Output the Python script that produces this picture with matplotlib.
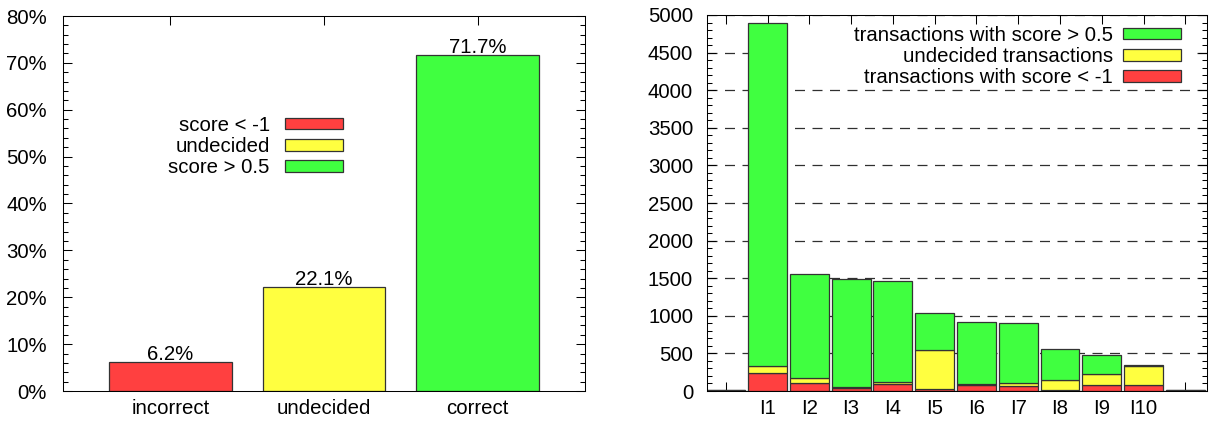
import matplotlib
matplotlib.use("Agg")
import matplotlib.pyplot as plt
from matplotlib.patches import Patch, Rectangle
from matplotlib.ticker import MultipleLocator, PercentFormatter

plt.rcParams['font.family'] = ['Liberation Sans', 'DejaVu Sans']
plt.rcParams['font.size'] = 14.7

# ---------------- data ----------------
left_categories = ['incorrect', 'undecided', 'correct']
left_percent = [6.2, 22.1, 71.7]
left_legend = ['score < -1', 'undecided', 'score > 0.5']

right_categories = ['', 'I1', 'I2', 'I3', 'I4', 'I5', 'I6', 'I7', 'I8', 'I9', 'I10', '']
right_bad = [0, 235, 100, 35, 95, 20, 75, 60, 15, 85, 75, 0]
right_undecided = [10, 95, 78, 15, 30, 530, 20, 50, 135, 140, 260, 10]
right_good = [0, 4570, 1382, 1435, 1340, 485, 825, 795, 410, 250, 5, 0]
right_legend = ['transactions with score > 0.5', 'undecided transactions',
                'transactions with score < -1']

RED = '#ff4040'
YELLOW = '#ffff40'
GREEN = '#40ff40'
EDGE = '#333333'

W, H = 1210, 423
fig = plt.figure(figsize=(W / 100, H / 100), dpi=100)


def px_axes(l, t, r, b):
    return fig.add_axes([l / W, 1 - b / H, (r - l) / W, (b - t) / H])


def style_axes(ax):
    for s in ax.spines.values():
        s.set_linewidth(0.75)
        s.set_color('black')
    ax.set_axisbelow(True)
    ax.tick_params(which='major', direction='in', top=True, right=True,
                   length=6.5, width=0.75, colors='black')
    ax.tick_params(which='minor', direction='in', left=True, right=True,
                   length=3.25, width=0.75)


# ---------------- left chart ----------------
ax1 = px_axes(63, 16, 585, 391)
style_axes(ax1)
x1 = list(range(len(left_categories)))
ax1.bar(x1, left_percent, width=0.8, color=[RED, YELLOW, GREEN],
        edgecolor=EDGE, linewidth=0.9, zorder=2)
for xi, v in zip(x1, left_percent):
    ax1.annotate(f'{v}%', (xi, v), xytext=(0, 1.5), textcoords='offset points',
                 ha='center', va='baseline')
ax1.set_xlim(-0.7, 2.7)
ax1.set_ylim(0, 80)
ax1.set_xticks(x1)
ax1.set_xticklabels(left_categories)
ax1.yaxis.set_major_locator(MultipleLocator(10))
ax1.yaxis.set_minor_locator(MultipleLocator(2))
ax1.yaxis.set_major_formatter(PercentFormatter(xmax=100, decimals=0))
ax1.tick_params(axis='y', which='major', pad=11.5)
ax1.tick_params(axis='x', which='major', pad=6)

h1 = [Patch(facecolor=c, edgecolor=EDGE, linewidth=0.9) for c in (RED, YELLOW, GREEN)]
ax1.legend(h1, left_legend, loc='upper right',
           bbox_to_anchor=(343 / W, 1 - 116 / H), bbox_transform=fig.transFigure,
           frameon=False, markerfirst=False, handlelength=2.84, handleheight=0.49,
           handletextpad=0.75, labelspacing=0.1, borderpad=0, borderaxespad=0)

# ---------------- right chart ----------------
ax2 = px_axes(707, 15, 1207, 391)
style_axes(ax2)
x2 = list(range(len(right_categories)))
bottom_u = right_bad
bottom_g = [a + b for a, b in zip(right_bad, right_undecided)]
ax2.bar(x2, right_bad, width=0.93, color=RED, edgecolor=EDGE, linewidth=0.9, zorder=2)
ax2.bar(x2, right_undecided, width=0.93, bottom=bottom_u, color=YELLOW,
        edgecolor=EDGE, linewidth=0.9, zorder=2)
ax2.bar(x2, right_good, width=0.93, bottom=bottom_g, color=GREEN,
        edgecolor=EDGE, linewidth=0.9, zorder=2)
ax2.set_xlim(-0.45, 11.52)
ax2.set_ylim(0, 5000)
ax2.set_xticks(x2)
ax2.set_xticklabels(right_categories)
ax2.yaxis.set_major_locator(MultipleLocator(500))
ax2.yaxis.set_minor_locator(MultipleLocator(100))
ax2.tick_params(axis='y', which='major', pad=10)
ax2.tick_params(axis='x', which='major', pad=6)
ax2.yaxis.grid(True, which='major', linestyle=(0, (8, 6)), color='#303030',
               linewidth=0.9)

# opaque key backdrop
ax2.add_patch(Rectangle((0.15, 0.867), 0.966 - 0.15, 0.934 - 0.867,
                        transform=ax2.transAxes, facecolor='white',
                        edgecolor='none', zorder=0.8))

h2 = [Patch(facecolor=c, edgecolor=EDGE, linewidth=0.9) for c in (GREEN, YELLOW, RED)]
ax2.legend(h2, right_legend, loc='upper right',
           bbox_to_anchor=(1181 / W, 1 - 26 / H), bbox_transform=fig.transFigure,
           frameon=False, markerfirst=False, handlelength=2.84, handleheight=0.49,
           handletextpad=0.5, labelspacing=0.1, borderpad=0, borderaxespad=0)

fig.savefig('out.png', dpi=100)
